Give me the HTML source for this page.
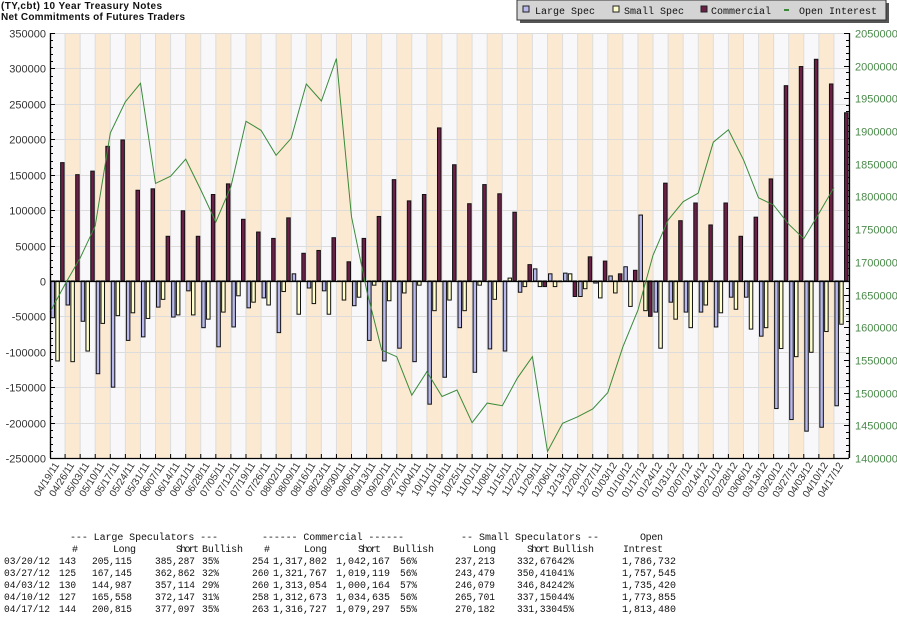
<!DOCTYPE html>
<html><head><meta charset="utf-8"><style>
html,body{margin:0;padding:0;background:#fff;width:897px;height:618px;overflow:hidden}
svg{display:block}
.lab{font-family:"Liberation Sans",sans-serif;font-size:11px;fill:#333}
.rlab{font-family:"Liberation Sans",sans-serif;font-size:11px;fill:#4a8a4a}
.xl{font-family:"Liberation Sans",sans-serif;font-size:10px;fill:#333}
.mono{font-family:"Liberation Mono",monospace;font-size:10px;fill:#111}
</style></head><body>
<svg id="chart" width="897" height="618" viewBox="0 0 897 618" xmlns="http://www.w3.org/2000/svg">
<text x="1" y="9" font-family="Liberation Sans,sans-serif" font-size="10" font-weight="bold" textLength="161" fill="#111">(TY,cbt) 10 Year Treasury Notes</text>
<text x="1" y="20" font-family="Liberation Sans,sans-serif" font-size="10" font-weight="bold" textLength="184" fill="#111">Net Commitments of Futures Traders</text>
<g id="plot"></g>
<g>
<rect x="520" y="3" width="369" height="20" fill="#555"/>
<rect x="517" y="0" width="369" height="20" fill="#d4d4d4" stroke="#333" stroke-width="1"/>
<g><rect x="523" y="6" width="6" height="6" fill="#b8b8ec" stroke="#222"/><text class="mono" x="535" y="14">Large Spec</text></g>
<g><rect x="613" y="6" width="6" height="6" fill="#ffffcc" stroke="#222"/><text class="mono" x="624" y="14">Small Spec</text></g>
<g><rect x="701" y="6" width="6" height="6" fill="#6b1f47" stroke="#222"/><text class="mono" x="711" y="14">Commercial</text></g>
<g><rect x="784" y="9" width="5" height="2" fill="#3a8a3a"/><text class="mono" x="799" y="14">Open Interest</text></g>
</g>
<g class="mono">
<text x="70" y="540" textLength="148">--- Large Speculators ---</text>
<text x="262" y="540" textLength="142">------ Commercial ------</text>
<text x="461" y="540" textLength="138">-- Small Speculators --</text>
<text x="640" y="540" textLength="23">Open</text>
<text x="72" y="552">#</text><text x="113" y="552" textLength="23">Long</text><text x="176" y="552" textLength="23">Short</text><text x="202" y="552" textLength="41">Bullish</text>
<text x="264" y="552">#</text><text x="304" y="552" textLength="23">Long</text><text x="358" y="552" textLength="23">Short</text><text x="393" y="552" textLength="41">Bullish</text>
<text x="473" y="552" textLength="23">Long</text><text x="527" y="552" textLength="23">Short</text><text x="553" y="552" textLength="41">Bullish</text><text x="623" y="552" textLength="40">Intrest</text>
</g>
<g id="rows" class="mono"></g>
</svg>
<script>
const categories=["04/19/11","04/26/11","05/03/11","05/10/11","05/17/11","05/24/11","05/31/11","06/07/11","06/14/11","06/21/11","06/28/11","07/05/11","07/12/11","07/19/11","07/26/11","08/02/11","08/09/11","08/16/11","08/23/11","08/30/11","09/06/11","09/13/11","09/20/11","09/27/11","10/04/11","10/11/11","10/18/11","10/25/11","11/01/11","11/08/11","11/15/11","11/22/11","11/29/11","12/06/11","12/13/11","12/20/11","12/27/11","01/03/12","01/10/12","01/17/12","01/24/12","01/31/12","02/07/12","02/14/12","02/21/12","02/28/12","03/06/12","03/13/12","03/20/12","03/27/12","04/03/12","04/10/12","04/17/12"];
const largeSpec=[-52000,-34000,-57000,-131000,-150000,-84000,-79000,-37000,-51000,-14000,-66000,-93000,-65000,-38000,-24000,-73000,10000,-10000,-14000,0,-35000,-84000,-113000,-95000,-114000,-174000,-136000,-66000,-129000,-96000,-99000,-16000,17000,10000,11000,-22000,-3000,7000,20000,93000,-44000,-30000,-44000,-44000,-65000,-23000,-23000,-78000,-180172,-195717,-212127,-206589,-176282];
const smallSpec=[-113000,-114000,-99000,-60000,-49000,-45000,-53000,-26000,-48000,-48000,-54000,-44000,-21000,-30000,-34000,-15000,-47000,-32000,-47000,-27000,-23000,-6000,-28000,-17000,-6000,-42000,-27000,-42000,-6000,-26000,4000,-8000,-8000,-8000,10000,-11000,-24000,-17000,-36000,-42000,-95000,-54000,-66000,-34000,-45000,-40000,-68000,-66000,-95463,-106931,-100763,-71449,-61148];
const commercial=[167000,150000,155000,190000,199000,128000,130000,63000,99000,63000,122000,137000,87000,69000,60000,89000,39000,43000,61000,27000,60000,91000,143000,113000,122000,216000,164000,109000,136000,123000,97000,23000,-8000,-1000,-22000,34000,28000,10000,15000,-50000,138000,85000,110000,79000,110000,63000,90000,144000,275635,302648,312890,278038,237430];
const openInterest=[1623000,1666000,1706000,1755000,1897000,1945000,1973000,1820000,1831000,1857000,1810000,1761000,1815000,1915000,1901000,1863000,1889000,1972000,1946000,2011000,1769000,1657000,1565000,1555000,1496000,1532000,1494000,1504000,1454000,1484000,1480000,1522000,1555000,1410000,1453000,1463000,1475000,1500000,1570000,1626000,1710000,1764000,1792000,1805000,1883000,1902000,1856000,1798000,1786732,1757545,1735420,1773855,1813480];
const leftTicks=[-250000,-200000,-150000,-100000,-50000,0,50000,100000,150000,200000,250000,300000,350000];
const rightTicks=[1400000,1450000,1500000,1550000,1600000,1650000,1700000,1750000,1800000,1850000,1900000,1950000,2000000,2050000];
const tableRows=[
["03/20/12","143","205,115","385,287","35%","254","1,317,802","1,042,167","56%","237,213","332,676","42%","1,786,732"],
["03/27/12","125","167,145","362,862","32%","260","1,321,767","1,019,119","56%","243,479","350,410","41%","1,757,545"],
["04/03/12","130","144,987","357,114","29%","260","1,313,054","1,000,164","57%","246,079","346,842","42%","1,735,420"],
["04/10/12","127","165,558","372,147","31%","258","1,312,673","1,034,635","56%","265,701","337,150","44%","1,773,855"],
["04/17/12","144","200,815","377,097","35%","263","1,316,727","1,079,297","55%","270,182","331,330","45%","1,813,480"]];

const NS="http://www.w3.org/2000/svg";
const L=50,R=849,T=33,B=458;
const n=categories.length, bw=(R-L)/n;
const yL=v=>T+(350000-v)*(B-T)/600000;
const yR=v=>T+(2050000-v)*(B-T)/650000;
const xB=i=>L+i*bw;
const plot=document.getElementById('plot');
function mk(tag,attrs,parent){const e=document.createElementNS(NS,tag);for(const k in attrs)e.setAttribute(k,attrs[k]);(parent||plot).appendChild(e);return e;}
for(let i=0;i<n;i++){
  const r=mk('rect',{x:xB(i),y:T,width:bw,height:B-T,fill:i%2?'#fbe9d2':'#f8f8fa'});
  
  
  mk('line',{x1:xB(i),x2:xB(i),y1:T,y2:B,stroke:'#ddd','stroke-width':1});
}
leftTicks.forEach(v=>{
  const y=Math.round(yL(v))+0.5;
  mk('line',{x1:L,x2:R,y1:y,y2:y,stroke:'#dcdcdc','stroke-width':1});
  const t=mk('text',{x:46,y:y+4,'text-anchor':'end',class:'lab'});t.textContent=v;
  
  
});
for(let v=-250000;v<=350000;v+=10000){const y=Math.round(yL(v))+0.5;mk('line',{x1:L,x2:L+(v%50000===0?5:3),y1:y,y2:y,stroke:'#000'});}
rightTicks.forEach(v=>{
  const y=Math.round(yR(v))+0.5;
  const t=mk('text',{x:855,y:y+4,class:'rlab'});t.textContent=v;
  
  
});
for(let v=1400000;v<=2050000;v+=10000){const y=Math.round(yR(v))+0.5;mk('line',{x1:R-(v%50000===0?5:3),x2:R,y1:y,y2:y,stroke:'#000'});}
function bar(v,x,fill,name){
  const y0=yL(0),y1=yL(v);
  const r=mk('rect',{x:x,y:Math.min(y0,y1),width:3.5,height:Math.max(0.5,Math.abs(y1-y0)),fill:fill,stroke:'#111','stroke-width':1});
  
  
}
for(let i=0;i<n;i++){
  bar(largeSpec[i],xB(i)+1,'#b8b8ec','bar-large-spec-'+categories[i]);
  bar(smallSpec[i],xB(i)+5.8,'#ffffcc','bar-small-spec-'+categories[i]);
  bar(commercial[i],xB(i)+10.6,'#6b1f47','bar-commercial-'+categories[i]);
}
mk('line',{x1:L,x2:R,y1:Math.round(yL(0))+0.5,y2:Math.round(yL(0))+0.5,stroke:'#000','stroke-width':1.3});
const pts=openInterest.map((v,i)=>xB(i).toFixed(1)+','+yR(v).toFixed(1)).join(' ');
const pl=mk('polyline',{points:pts,fill:'none',stroke:'#3a8a3a','stroke-width':1});


mk('line',{x1:L+0.5,x2:L+0.5,y1:T,y2:B,stroke:'#000','stroke-width':1.3});
mk('line',{x1:R+0.5,x2:R+0.5,y1:T,y2:B,stroke:'#000','stroke-width':1.3});
mk('line',{x1:L,x2:R,y1:B+0.5,y2:B+0.5,stroke:'#000','stroke-width':1.3});
for(let i=1;i<=n;i++){mk('line',{x1:xB(i),x2:xB(i),y1:B-4,y2:B,stroke:'#000'});}
categories.forEach((c,i)=>{
  const x=xB(i)+bw/2+2,y=465;
  const t=mk('text',{x:x,y:y,'text-anchor':'end',class:'xl',transform:'rotate(-58 '+x+' '+y+')'});
  t.textContent=c;
  
  
});
const colX=[4,59,92,155,202,252,273,336,400,455,517,557,622];
const rows=document.getElementById('rows');
tableRows.forEach((r,ri)=>{
  r.forEach((s,ci)=>{
    const w=s.length>=9?54:(s.length>=7?(s.length===8?46:40):(s.length*5.7));
    const t=mk('text',{x:colX[ci],y:564+ri*12,textLength:w,lengthAdjust:'spacingAndGlyphs'},rows);
    t.textContent=s;
    
    
  });
});
</script>
</body></html>
